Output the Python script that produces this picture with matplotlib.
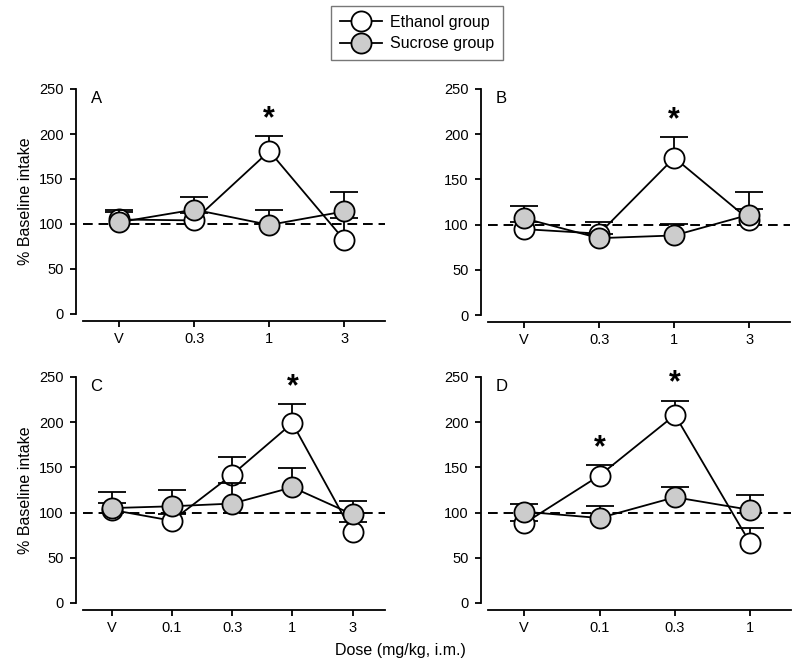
import matplotlib
matplotlib.use("Agg")
import matplotlib.pyplot as plt
from matplotlib.lines import Line2D

plt.rcParams['font.family'] = ['Liberation Sans', 'DejaVu Sans']

# tick labels
labels_ab = ['V', '0.3', '1', '3']
labels_c = ['V', '0.1', '0.3', '1', '3']
labels_d = ['V', '0.1', '0.3', '1']

# panel A
eth_a = [105, 104, 181, 82]
eth_a_err = [8, 8, 17, 25]
suc_a = [102, 116, 99, 114]
suc_a_err = [13, 14, 16, 21]
star_a = [2]

# panel B
eth_b = [95, 90, 174, 105]
eth_b_err = [8, 13, 23, 12]
suc_b = [107, 85, 88, 111]
suc_b_err = [14, 5, 13, 25]
star_b = [2]

# panel C
eth_c = [103, 91, 142, 199, 78]
eth_c_err = [8, 8, 20, 21, 12]
suc_c = [105, 107, 110, 128, 98]
suc_c_err = [18, 18, 23, 21, 15]
star_c = [3]

# panel D
eth_d = [88, 141, 208, 66]
eth_d_err = [3, 12, 16, 17]
suc_d = [101, 94, 117, 103]
suc_d_err = [8, 13, 11, 16]
star_d = [1, 2]

panels = [
    ('A', labels_ab, eth_a, eth_a_err, suc_a, suc_a_err, star_a),
    ('B', labels_ab, eth_b, eth_b_err, suc_b, suc_b_err, star_b),
    ('C', labels_c, eth_c, eth_c_err, suc_c, suc_c_err, star_c),
    ('D', labels_d, eth_d, eth_d_err, suc_d, suc_d_err, star_d),
]

W, H = 800, 666
fig = plt.figure(figsize=(8, 6.66), dpi=100)

# axes boxes in pixels: left, y of 0, right, y of 250
boxes = [(83, 314, 385, 89), (488, 315, 790, 89),
         (83, 603, 385, 377), (488, 603, 791, 377)]

ms = 14.5
lw = 1.3


def upper_err(ax, x, y, err, z):
    # error bar upward only, hide the cap at the mean
    eb = ax.errorbar(x, y, yerr=[[0] * len(x), err], fmt='none', ecolor='black',
                     elinewidth=lw, capsize=10, capthick=lw, zorder=z)
    eb[1][0].set_visible(False)


for (letter, labels, eth, eth_err, suc, suc_err, stars), (l, y0, r, y1) in zip(panels, boxes):
    ax = fig.add_axes([l / W, 1 - y0 / H, (r - l) / W, (y0 - y1) / H])
    x = list(range(len(labels)))
    ax.axhline(100, color='black', ls=(0, (5, 3)), lw=1.4, zorder=1)
    upper_err(ax, x, eth, eth_err, 2)
    ax.plot(x, eth, '-o', color='black', lw=lw, mfc='white', mec='black',
            mew=lw, ms=ms, zorder=3, clip_on=False)
    upper_err(ax, x, suc, suc_err, 4)
    ax.plot(x, suc, '-o', color='black', lw=lw, mfc='#cccccc', mec='black',
            mew=lw, ms=ms, zorder=5, clip_on=False)
    for s in stars:
        ax.text(x[s], eth[s] + eth_err[s] + 2, '*', ha='center', va='bottom',
                fontsize=22, fontweight='bold')
    ax.set_xlim(-0.48, len(x) - 1 + 0.54)
    ax.set_ylim(0, 250)
    ax.set_xticks(x)
    ax.set_xticklabels(labels)
    ax.set_yticks([0, 50, 100, 150, 200, 250])
    ax.spines['top'].set_visible(False)
    ax.spines['right'].set_visible(False)
    ax.spines['left'].set_position(('outward', 5))
    ax.spines['bottom'].set_position(('outward', 5))
    ax.spines['left'].set_linewidth(lw)
    ax.spines['bottom'].set_linewidth(lw)
    ax.tick_params(direction='out', length=4, width=lw, labelsize=10.5, pad=5)
    ax.tick_params(axis='x', pad=4)
    ax.text(0.025, 0.99, letter, transform=ax.transAxes, ha='left', va='top', fontsize=12)
    if letter in ('A', 'C'):
        ax.set_ylabel('% Baseline intake', fontsize=11.5, labelpad=4)

fig.text(0.5, 1 - 650 / H, 'Dose (mg/kg, i.m.)', ha='center', va='center', fontsize=11.5)

handles = [
    Line2D([], [], color='black', lw=lw, marker='o', mfc='white', mec='black', mew=lw, ms=ms),
    Line2D([], [], color='black', lw=lw, marker='o', mfc='#cccccc', mec='black', mew=lw, ms=ms),
]
fig.legend(handles, ['Ethanol group', 'Sucrose group'], loc='center',
           bbox_to_anchor=(417 / W, 1 - 33 / H), fontsize=11.5, frameon=True,
           fancybox=False, edgecolor='#555555', handlelength=2.6, handletextpad=0.5,
           labelspacing=0.4, borderpad=0.55, borderaxespad=0)

fig.savefig('out.png', dpi=100)
